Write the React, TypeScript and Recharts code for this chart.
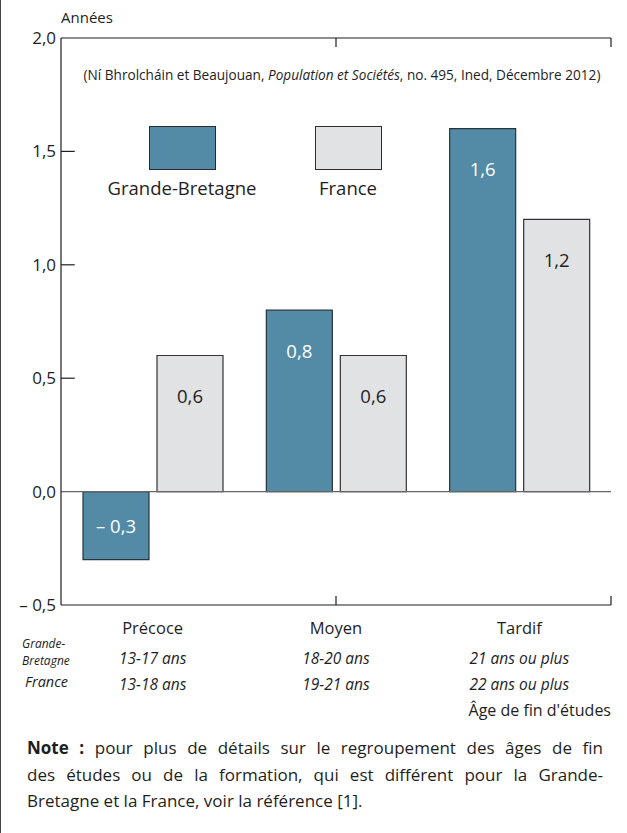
import { BarChart, Bar, XAxis, YAxis, ReferenceLine, LabelList, Legend } from "recharts";

const categories = ["Précoce", "Moyen", "Tardif"];
const gbRanges = ["13-17 ans", "18-20 ans", "21 ans ou plus"];
const frRanges = ["13-18 ans", "19-21 ans", "22 ans ou plus"];
const gbValues = [-0.3, 0.8, 1.6];
const frValues = [0.6, 0.6, 1.2];
const seriesNames = ["Grande-Bretagne", "France"];
const yTicks = [-0.5, 0, 0.5, 1, 1.5, 2];
const innerTicks = [0.5, 1, 1.5];
const boundaries = [1, 2];

const GB_COLOR = "#538ba6";
const FR_COLOR = "#e1e2e4";
const INK = "#1e1e1e";
const FONT = "'Open Sans', sans-serif";

const data = categories.map((cat, i) => ({ cat, gb: gbValues[i], fr: frValues[i] }));

const fmt = (v: number) =>
  (v < 0 ? "– " : "") + Math.abs(v).toFixed(1).replace(".", ",");

function CatTick(props: any) {
  const { x, y, payload } = props;
  const i = categories.indexOf(payload.value);
  return (
    <g fontFamily={FONT}>
      <text x={x} y={y + 20} textAnchor="middle" dominantBaseline="central" fontSize={16.5} fill={INK}>
        {payload.value}
      </text>
      <text x={x} y={y + 51} textAnchor="middle" dominantBaseline="central" fontSize={15.5} fontStyle="italic" fill={INK}>
        {gbRanges[i]}
      </text>
      <text x={x} y={y + 77} textAnchor="middle" dominantBaseline="central" fontSize={15.5} fontStyle="italic" fill={INK}>
        {frRanges[i]}
      </text>
    </g>
  );
}

const makeLabel = (color: string) => (props: any) => {
  const x = Number(props.x);
  const y = Number(props.y);
  const width = Number(props.width);
  const height = Number(props.height);
  const value = Number(props.value);
  const top = Math.min(y, y + height);
  const h = Math.abs(height);
  const cy = value < 0 ? top + h / 2 : top + 40;
  return (
    <text x={x + width / 2} y={cy} fill={color} textAnchor="middle" dominantBaseline="central" fontSize={18.5} fontFamily={FONT}>
      {fmt(value)}
    </text>
  );
};

function LegendBox(props: any) {
  const items = [...(props.payload || [])].sort(
    (a: any, b: any) => seriesNames.indexOf(a.value) - seriesNames.indexOf(b.value)
  );
  const lefts = [88, 254];
  return (
    <div style={{ position: "relative", width: 550, height: 80 }}>
      {items.map((it: any, i: number) => (
        <div key={it.value} style={{ position: "absolute", left: lefts[i], top: 0, width: 67 }}>
          <div
            style={{
              width: 65,
              height: 42,
              background: it.color,
              border: "1px solid #2b2b2b",
            }}
          />
          <div
            style={{
              position: "absolute",
              top: 49,
              left: -60,
              width: 187,
              textAlign: "center",
              fontSize: 18.5,
              color: INK,
              whiteSpace: "nowrap",
            }}
          >
            {it.value}
          </div>
        </div>
      ))}
    </div>
  );
}

const noteLine = { fontSize: 17, lineHeight: "26.5px", whiteSpace: "nowrap" as const };

export default function App() {
  return (
    <div
      style={{
        position: "absolute",
        left: 0,
        top: 0,
        width: 627,
        height: 833,
        background: "#fff",
        fontFamily: FONT,
        color: INK,
        borderLeft: "1.5px solid #444",
        boxSizing: "border-box",
      }}
    >
      <div style={{ position: "absolute", left: 60, top: 7, fontSize: 15 }}>Années</div>
      <BarChart
        width={627}
        height={720}
        data={data}
        margin={{ top: 38, right: 16, bottom: 15, left: 6 }}
        barSize={66}
        barGap={8}
        style={{ position: "absolute", left: -1.5, top: 0 }}
      >
        <XAxis
          xAxisId="cat"
          dataKey="cat"
          height={100}
          axisLine={{ stroke: INK, strokeWidth: 1.2 }}
          tickLine={false}
          tickSize={0}
          tick={<CatTick />}
          interval={0}
        />
        <XAxis xAxisId="f" type="number" domain={[0, 3]} hide />
        <YAxis
          domain={[-0.5, 2]}
          ticks={yTicks}
          width={55}
          axisLine={{ stroke: INK, strokeWidth: 1.2 }}
          tickLine={false}
          tickSize={0}
          tickMargin={5}
          tickFormatter={(v: number) => fmt(v)}
          tick={{ fontSize: 17, fill: INK, fontFamily: FONT }}
          interval={0}
        />
        <Legend
          layout="horizontal"
          verticalAlign="middle"
          align="center"
          content={<LegendBox />}
          wrapperStyle={{ top: 126, left: 61, width: 550, height: 80 }}
        />
        <Bar xAxisId="cat" dataKey="gb" name={seriesNames[0]} fill={GB_COLOR} stroke="#26343c" strokeWidth={1.2} isAnimationActive={false}>
          <LabelList dataKey="gb" content={makeLabel("#ffffff")} />
        </Bar>
        <Bar xAxisId="cat" dataKey="fr" name={seriesNames[1]} fill={FR_COLOR} stroke="#333" strokeWidth={1.2} isAnimationActive={false}>
          <LabelList dataKey="fr" content={makeLabel(INK)} />
        </Bar>
        <ReferenceLine xAxisId="f" y={0} stroke="#666" strokeWidth={1.2} />
        <ReferenceLine xAxisId="f" y={2} stroke={INK} strokeWidth={1.2} />
        <ReferenceLine xAxisId="f" x={3} stroke={INK} strokeWidth={1.2} />
        {boundaries.map((b) => (
          <ReferenceLine key={"t" + b} xAxisId="f" segment={[{ x: b, y: 2 }, { x: b, y: 1.96 }]} stroke={INK} strokeWidth={1.2} />
        ))}
        {boundaries.map((b) => (
          <ReferenceLine key={"b" + b} xAxisId="f" segment={[{ x: b, y: -0.5 }, { x: b, y: -0.46 }]} stroke={INK} strokeWidth={1.2} />
        ))}
        {innerTicks.map((t) => (
          <ReferenceLine key={"l" + t} xAxisId="f" segment={[{ x: 0, y: t }, { x: 0.05, y: t }]} stroke={INK} strokeWidth={1.2} />
        ))}
        {innerTicks.map((t) => (
          <ReferenceLine key={"r" + t} xAxisId="f" segment={[{ x: 2.95, y: t }, { x: 3, y: t }]} stroke={INK} strokeWidth={1.2} />
        ))}
      </BarChart>
      <div
        style={{
          position: "absolute",
          left: 66,
          width: 550,
          top: 65,
          textAlign: "center",
          fontSize: 13.6,
          whiteSpace: "nowrap",
        }}
      >
        (Ní Bhrolcháin et Beaujouan, <i>Population et Sociétés</i>, no. 495, Ined, Décembre 2012)
      </div>
      <div style={{ position: "absolute", left: 21, top: 636, fontSize: 12, fontStyle: "italic", lineHeight: "16px" }}>
        Grande-
      </div>
      <div style={{ position: "absolute", left: 21, top: 652.5, fontSize: 12, fontStyle: "italic", lineHeight: "16px" }}>
        Bretagne
      </div>
      <div style={{ position: "absolute", left: 24, top: 672, fontSize: 14.5, fontStyle: "italic" }}>France</div>
      <div style={{ position: "absolute", right: 16, top: 699, fontSize: 16, whiteSpace: "nowrap" }}>
        Âge de fin d'études
      </div>
      <div style={{ position: "absolute", left: 26, width: 576, top: 735 }}>
        <div style={{ ...noteLine, textAlign: "justify", textAlignLast: "justify" }}>
          <b>Note&nbsp;:</b> pour plus de détails sur le regroupement des âges de fin
        </div>
        <div style={{ ...noteLine, textAlign: "justify", textAlignLast: "justify" }}>
          des études ou de la formation, qui est différent pour la Grande-
        </div>
        <div style={noteLine}>Bretagne et la France, voir la référence [1].</div>
      </div>
    </div>
  );
}
